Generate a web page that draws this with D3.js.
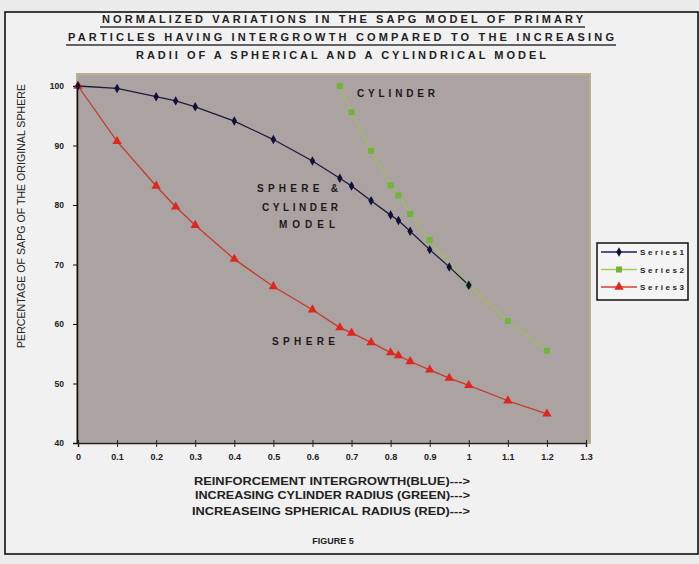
<!DOCTYPE html>
<html><head><meta charset="utf-8">
<script src="https://cdn.jsdelivr.net/npm/d3@7"></script>
<style>
body{margin:0;background:#ececec;}
text{font-family:"Liberation Sans",Arial,sans-serif;}
</style>
</head><body>
<svg id="c" width="699" height="564"></svg>
<script>
// ---- data ----
const xTickValues = [0,0.1,0.2,0.3,0.4,0.5,0.6,0.7,0.8,0.9,1,1.1,1.2,1.3];
const xTickLabels = ["0","0.1","0.2","0.3","0.4","0.5","0.6","0.7","0.8","0.9","1","1.1","1.2","1.3"];
const yTickValues = [40,50,60,70,80,90,100];

const series1X = [0,0.1,0.2,0.25,0.3,0.4,0.5,0.6,0.67,0.7,0.75,0.8,0.82,0.85,0.9,0.95,1.0];
const series1Y = [100,99.6,98.2,97.5,96.5,94.1,91.0,87.4,84.5,83.2,80.7,78.3,77.4,75.6,72.5,69.6,66.5];

const series2X = [0.67,0.7,0.75,0.8,0.82,0.85,0.9,1.0,1.1,1.2];
const series2Y = [100,95.6,89.1,83.3,81.6,78.5,74.1,66.5,60.5,55.5];

const series3X = [0,0.1,0.2,0.25,0.3,0.4,0.5,0.6,0.67,0.7,0.75,0.8,0.82,0.85,0.9,0.95,1.0,1.1,1.2];
const series3Y = [100,90.7,83.2,79.7,76.6,70.9,66.3,62.4,59.4,58.5,56.9,55.2,54.7,53.7,52.3,50.9,49.7,47.1,44.9];

const seriesNames = ["Series1","Series2","Series3"];
const titleLines = ["NORMALIZED VARIATIONS IN THE SAPG MODEL OF PRIMARY",
                    "PARTICLES HAVING INTERGROWTH COMPARED TO THE INCREASING",
                    "RADII OF A SPHERICAL AND A CYLINDRICAL MODEL"];
const yAxisTitle = "PERCENTAGE OF SAPG OF THE ORIGINAL SPHERE";
const xAxisTitles = ["REINFORCEMENT INTERGROWTH(BLUE)--->",
                     "INCREASING CYLINDER RADIUS (GREEN)--->",
                     "INCREASEING SPHERICAL RADIUS (RED)--->"];
const figureLabel = "FIGURE 5";

// ---- drawing ----
const svg = d3.select("#c");
svg.append("rect").attr("x",0).attr("y",0).attr("width",699).attr("height",564).attr("fill","#ebebeb");
svg.append("rect").attr("x",5).attr("y",12).attr("width",693).attr("height",542)
  .attr("fill","#f1f1f1").attr("stroke","#111").attr("stroke-width",1.6);

const x = d3.scaleLinear().domain([0,1.3]).range([78,586]);
const y = d3.scaleLinear().domain([40,100]).range([443,86]);

// plot area
svg.append("rect").attr("x",77).attr("y",74).attr("width",513).attr("height",369)
  .attr("fill","#aba2a2").attr("stroke","#b6b08e").attr("stroke-width",2);

// title
const titleSpec = [{y:23,x1:102,x2:583,ul:27},{y:41,x1:68,x2:614,ul:45},{y:59,x1:136,x2:546,ul:null}];
titleLines.forEach((t,i)=>{
  const s = titleSpec[i];
  svg.append("text").attr("x",s.x1).attr("y",s.y).attr("font-size",11).attr("font-weight","bold")
    .attr("fill","#222").attr("textLength",s.x2-s.x1).attr("lengthAdjust","spacing").text(t);
  if(s.ul!==null){
    svg.append("line").attr("x1",s.x1-2).attr("x2",s.x2+2).attr("y1",s.ul).attr("y2",s.ul)
      .attr("stroke","#333").attr("stroke-width",1.5);
  }
});

// axes
const yAxis = d3.axisLeft(y).tickValues(yTickValues).tickSize(4).tickFormat(d3.format("d"));
const gy = svg.append("g").attr("transform","translate(77,0)").call(yAxis);
gy.select(".domain").attr("stroke","#111").attr("stroke-width",1.5);
gy.selectAll(".tick line").attr("stroke","#111");
gy.selectAll(".tick text").attr("font-size",8.5).attr("font-weight","bold").attr("fill","#222")
  .attr("x",-13).attr("font-family","Liberation Sans, Arial, sans-serif");

const xAxis = d3.axisBottom(x).tickValues(xTickValues).tickSize(4)
  .tickFormat((d,i)=>xTickLabels[i]);
const gx = svg.append("g").attr("transform","translate(0,443)").call(xAxis);
gx.select(".domain").attr("stroke","#222").attr("stroke-width",1.5);
gx.selectAll(".tick line").attr("stroke","#222").attr("y1",-3);
gx.selectAll(".tick text").attr("font-size",9).attr("font-weight","bold").attr("fill","#222")
  .attr("y",11).attr("font-family","Liberation Sans, Arial, sans-serif");

// lines
const line = d3.line().x(d=>x(d[0])).y(d=>y(d[1]));
const s1 = series1X.map((v,i)=>[v,series1Y[i]]);
const s2 = series2X.map((v,i)=>[v,series2Y[i]]);
const s3 = series3X.map((v,i)=>[v,series3Y[i]]);

svg.append("path").datum(s2).attr("d",line).attr("fill","none").attr("stroke","#9fbf5a").attr("stroke-width",1.3);
svg.append("path").datum(s3).attr("d",line).attr("fill","none").attr("stroke","#c8392b").attr("stroke-width",1.3);
svg.append("path").datum(s1).attr("d",line).attr("fill","none").attr("stroke","#1c1c3a").attr("stroke-width",1.3);

const sym2 = d3.symbol().type(d3.symbolSquare).size(36);
const sym3 = d3.symbol().type(d3.symbolTriangle).size(38);
const sym1 = d3.symbol().type(d3.symbolDiamond).size(26);

svg.append("g").selectAll("path").data(s2).join("path").attr("d",sym2)
  .attr("transform",d=>`translate(${x(d[0])},${y(d[1])})`).attr("fill","#6fb536");
svg.append("g").selectAll("path").data(s3).join("path").attr("d",sym3)
  .attr("transform",d=>`translate(${x(d[0])},${y(d[1])})`).attr("fill","#e0261e");
svg.append("g").selectAll("path").data(s1).join("path").attr("d",sym1)
  .attr("transform",d=>`translate(${x(d[0])},${y(d[1])})`).attr("fill","#10103a");

// annotations
function label(t,x1,x2,yy){
  svg.append("text").attr("x",x1).attr("y",yy).attr("font-size",10).attr("font-weight","bold")
    .attr("fill","#1a1a1a").attr("textLength",x2-x1).attr("lengthAdjust","spacing").text(t);
}
label("CYLINDER",357,435,97);
label("SPHERE &",257,338,192);
label("CYLINDER",262,338,211);
label("MODEL",279,335,228);
label("SPHERE",272,335,345);

// y axis title
svg.append("text").attr("transform","translate(25,216) rotate(-90)").attr("text-anchor","middle")
  .attr("font-size",10.5).attr("fill","#222").attr("textLength",264).attr("lengthAdjust","spacingAndGlyphs")
  .text(yAxisTitle);

// x axis titles
const xtSpec = [{x1:194,x2:470,y:485},{x1:195,x2:470,y:499},{x1:192,x2:470,y:515}];
xAxisTitles.forEach((t,i)=>{
  const s = xtSpec[i];
  svg.append("text").attr("x",s.x1).attr("y",s.y).attr("font-size",10.5).attr("font-weight","bold")
    .attr("fill","#222").attr("textLength",s.x2-s.x1).attr("lengthAdjust","spacingAndGlyphs").text(t);
});
svg.append("text").attr("x",333).attr("y",544).attr("text-anchor","middle").attr("font-size",9)
  .attr("font-weight","bold").attr("fill","#222").text(figureLabel);

// legend
const lg = svg.append("g");
lg.append("rect").attr("x",597).attr("y",243).attr("width",91).attr("height",57)
  .attr("fill","#f4f4f4").attr("stroke","#111").attr("stroke-width",1.5);
const legColors = [{l:"#1c1c6a",m:"#10103a",s:sym1},{l:"#a6cc5a",m:"#6fb536",s:sym2},{l:"#d8452f",m:"#e0261e",s:sym3}];
seriesNames.forEach((n,i)=>{
  const yy = 252 + i*17.5;
  lg.append("line").attr("x1",601).attr("x2",637).attr("y1",yy).attr("y2",yy)
    .attr("stroke",legColors[i].l).attr("stroke-width",1.3);
  lg.append("path").attr("d",legColors[i].s).attr("transform",`translate(619,${yy})`).attr("fill",legColors[i].m);
  lg.append("text").attr("x",640).attr("y",yy+3).attr("font-size",8).attr("font-weight","bold")
    .attr("fill","#222").attr("textLength",44).attr("lengthAdjust","spacing").text(n);
});
</script>
</body></html>
